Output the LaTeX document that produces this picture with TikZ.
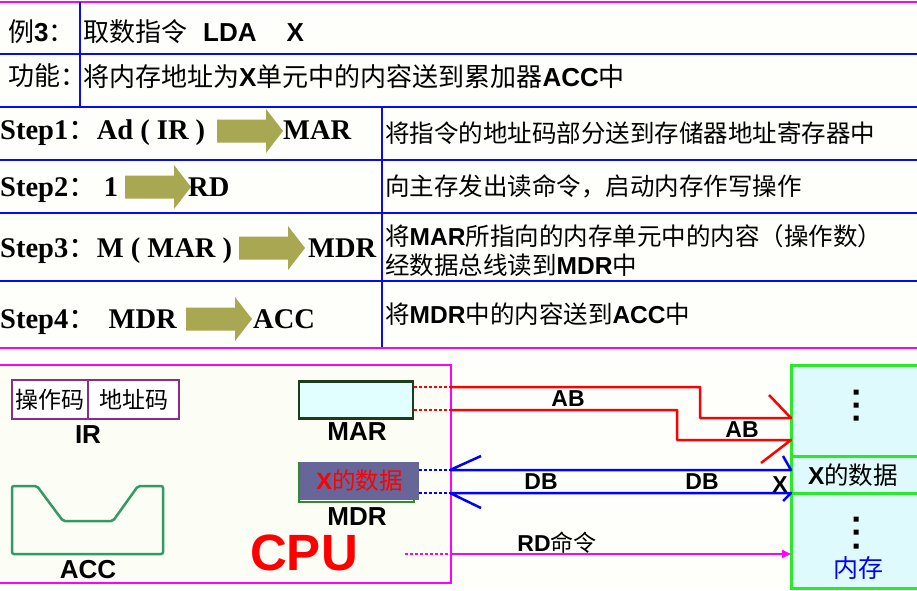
\documentclass[tikz,border=0pt]{standalone}
\usepackage{fontspec}
\setmainfont{Liberation Serif}
\setsansfont{Liberation Sans}
\newfontfamily\cjk{Noto Sans CJK SC}
\usetikzlibrary{positioning,arrows.meta}

\definecolor{tblblue}{RGB}{10,10,240}
\definecolor{mag}{RGB}{255,0,255}
\definecolor{olivearr}{RGB}{168,168,82}
\definecolor{irpurple}{RGB}{142,42,142}
\definecolor{mardark}{RGB}{27,61,27}
\definecolor{lightcyan}{RGB}{226,255,255}
\definecolor{memcyan}{RGB}{222,250,252}
\definecolor{slate}{RGB}{102,102,153}
\definecolor{mdrgreen}{RGB}{46,139,46}
\definecolor{accgreen}{RGB}{51,153,102}
\definecolor{memgreen}{RGB}{40,235,40}
\definecolor{busred}{RGB}{255,0,0}
\definecolor{busblue}{RGB}{0,0,255}
\definecolor{paper}{RGB}{254,254,250}
\definecolor{cpupaper}{RGB}{252,253,244}

\newcommand\zh[1]{{\cjk\mdseries #1}}
\newcommand\en[1]{{\sffamily\bfseries #1}}

\tikzset{
  tblline/.style={tblblue, line width=2.5pt},
  magline/.style={mag, line width=2.5pt},
  headtxt/.style={anchor=west, inner sep=0pt, font=\fontsize{26}{30}\selectfont},
  steptxt/.style={anchor=base west, inner sep=0pt, font=\fontsize{28.5}{32}\selectfont\bfseries},
  desctxt/.style={anchor=west, inner sep=0pt, align=left, font=\fontsize{24.5}{29}\selectfont},
  fatarrow/.pic={\fill[olivearr] (0,-11.5) -- (49,-11.5) -- (49,-22) -- (66,0) -- (49,22) -- (49,11.5) -- (0,11.5) -- cycle;},
  reglbl/.style={inner sep=0pt, font=\fontsize{26}{30}\sffamily\bfseries},
  buslbl/.style={inner sep=0pt, font=\fontsize{23}{26}\sffamily\bfseries},
  irbox/.style={draw=irpurple, line width=2pt, fill=white, minimum height=39pt, inner sep=0pt, font=\fontsize{23}{26}\selectfont},
  memcell/.style={draw=memgreen, line width=3pt, fill=memcyan, minimum width=140pt, outer sep=0pt, inner sep=0pt, anchor=north west},
  redbus/.style={busred, line width=2.5pt, line join=round},
  reddots/.style={busred, line width=2.5pt, dash pattern=on 3pt off 2pt},
  bluebus/.style={busblue, line width=2.5pt, line join=round},
  bluedots/.style={busblue, line width=2.5pt, dash pattern=on 3pt off 2pt},
  magdots/.style={mag, line width=2pt, dash pattern=on 3pt off 2pt},
}

\begin{document}
\begin{tikzpicture}[x=1pt, y=-1pt]
  \useasboundingbox (0,0) rectangle (917,590);
  \fill[paper] (0,0) rectangle (917,590);

  % table frame
  \draw[magline] (0,2) -- (917,2);
  \draw[tblline] (80,2) -- (80,107);
  \draw[tblline] (0,54) -- (917,54);
  \draw[tblline] (0,107) -- (917,107);
  \draw[tblline] (0,160) -- (917,160);
  \draw[tblline] (0,213) -- (917,213);
  \draw[tblline] (0,281) -- (917,281);
  \draw[tblline] (382,107) -- (382,348);
  \draw[magline] (0,348) -- (917,348);

  \node[headtxt] (exlbl) at (8,32) {\zh{例}\en{3}\zh{：}};
  \node[headtxt] (instr) at (83,32) {\zh{取数指令}\hspace{16pt}\en{LDA}\hspace{30pt}\en{X}};
  \node[headtxt] (fnlbl) at (8,76) {\zh{功能：}};
  \node[headtxt] (fntxt) at (83,77) {\zh{将内存地址为}\en{X}\zh{单元中的内容送到累加器}\en{ACC}\zh{中}};

  % steps
  \node[steptxt] (s1) at (0,139) {Step1\zh{：}Ad ( IR )};
  \pic at (217,131) {fatarrow};
  \node[steptxt] (s1r) at (283,139) {MAR};
  \node[steptxt] (s2) at (0,196) {Step2\zh{：}\ 1};
  \pic at (125,187) {fatarrow};
  \node[steptxt] (s2r) at (188,196) {RD};
  \node[steptxt] (s3) at (0,257) {Step3\zh{：}M ( MAR )};
  \pic at (239,248) {fatarrow};
  \node[steptxt] (s3r) at (308,257) {MDR};
  \node[steptxt] (s4) at (0,328) {Step4\zh{：}\ \,MDR};
  \pic at (186,319) {fatarrow};
  \node[steptxt] (s4r) at (253,328) {ACC};

  \node[desctxt] (d1) at (385,133) {\zh{将指令的地址码部分送到存储器地址寄存器中}};
  \node[desctxt] (d2) at (385,186) {\zh{向主存发出读命令，启动内存作写操作}};
  \node[desctxt] (d3) at (385,250.5) {\zh{将}\en{MAR}\zh{所指向的内存单元中的内容（操作数）}\\\zh{经数据总线读到}\en{MDR}\zh{中}};
  \node[desctxt] (d4) at (385,314) {\zh{将}\en{MDR}\zh{中的内容送到}\en{ACC}\zh{中}};

  % CPU
  \draw[magline, fill=cpupaper] (-3,365) rectangle (451,583);
  \node[irbox, minimum width=76pt] (op) at (50,399.5) {\zh{操作码}};
  \node[irbox, minimum width=91pt, right=-2pt of op] (addr) {\zh{地址码}};
  \node[reglbl] (irlbl) at (88,435) {IR};

  \node[draw=mardark, line width=2.5pt, fill=lightcyan, minimum width=114pt, minimum height=37pt] (MAR) at (356,400) {};
  \node[reglbl] (marlbl) at (357,432) {MAR};

  \draw[mdrgreen, line width=2pt] (299,463) rectangle (414,502);
  \node[fill=slate, minimum width=119pt, minimum height=38pt, inner sep=0pt, font=\fontsize{23.5}{26}\selectfont, text=red] (MDR) at (359.5,481) {\en{X}\zh{的数据}};
  \node[reglbl] (mdrlbl) at (357,517) {MDR};

  \draw[accgreen, line width=2.5pt, rounded corners=2pt] (12,486) -- (37,486) -- (63,521) -- (113,521) -- (138,486) -- (163,486) -- (163,554) -- (12,554) -- cycle;
  \node[reglbl] (acclbl) at (88,570) {ACC};

  \node[inner sep=0pt, text=red, font=\fontsize{51}{55}\sffamily\bfseries] (cpu) at (304,553) {CPU};

  % memory
  \node[memcell, minimum height=91pt] (mtop) at (791,365) {};
  \node[memcell, minimum height=37pt] (mmid) at (791,456) {};
  \node[memcell, minimum height=95pt] (mbot) at (791,493) {};
  \fill (853.5,389.5) rectangle ++(5,5) (853.5,402.5) rectangle ++(5,5) (853.5,415.5) rectangle ++(5,5);
  \fill (853.5,516.5) rectangle ++(5,5) (853.5,529.5) rectangle ++(5,5) (853.5,543.5) rectangle ++(5,5);
  \node[inner sep=0pt, font=\fontsize{24.5}{28}\selectfont] (xdata) at (853,475) {\en{X}\zh{的数据}};
  \node[inner sep=0pt, text=busblue, font=\fontsize{25}{28}\selectfont] (memlbl) at (858,568) {\zh{内存}};

  % buses
  \coordinate (cpu1) at (450,387);
  \coordinate (cpu2) at (450,410);
  \coordinate (cpu3) at (450,470);
  \coordinate (cpu4) at (450,493);
  \coordinate (cpu5) at (450,554);
  \coordinate (rdstart) at (405,554);
  \coordinate (bend1) at (700,418);
  \coordinate (bend2) at (677,440);
  \coordinate (ab1) at (791,418);
  \coordinate (ab2) at (791,440);
  \coordinate (db1) at (791,470);
  \coordinate (db2) at (791,493);
  \coordinate (rdend) at (791,554);

  \draw[reddots] ([yshift=13pt]MAR.east) -- (cpu1);
  \draw[redbus] (cpu1) -| (bend1) -- (ab1) -- ++(-22,-23);
  \draw[reddots] ([yshift=-10pt]MAR.east) -- (cpu2);
  \draw[redbus] (cpu2) -| (bend2) -- (ab2) -- ++(-30,23);

  \draw[bluedots] ([yshift=11pt]MDR.east) -- (cpu3);
  \draw[bluedots] ([yshift=-12pt]MDR.east) -- (cpu4);
  \draw[bluebus] (cpu3) ++(31,-14) -- (cpu3) -- (db1) -- ++(-8,-14);
  \draw[bluebus] (cpu4) ++(31,15) -- (cpu4) -- (db2) -- ++(-8,8);

  \draw[magdots] (rdstart) -- (cpu5);
  \draw[mag, line width=2pt, -{Triangle[length=9pt,width=8pt]}] (cpu5) -- (rdend);

  \node[buslbl] (ablbl1) at (568,399) {AB};
  \node[buslbl] (ablbl2) at (742,430) {AB};
  \node[buslbl] (dblbl1) at (541,482) {DB};
  \node[buslbl] (dblbl2) at (702,482) {DB};
  \node[buslbl] (xlbl) at (780,485) {X};
  \node[buslbl] (rdlbl) at (557,543) {RD\zh{命令}};
\end{tikzpicture}
\end{document}
